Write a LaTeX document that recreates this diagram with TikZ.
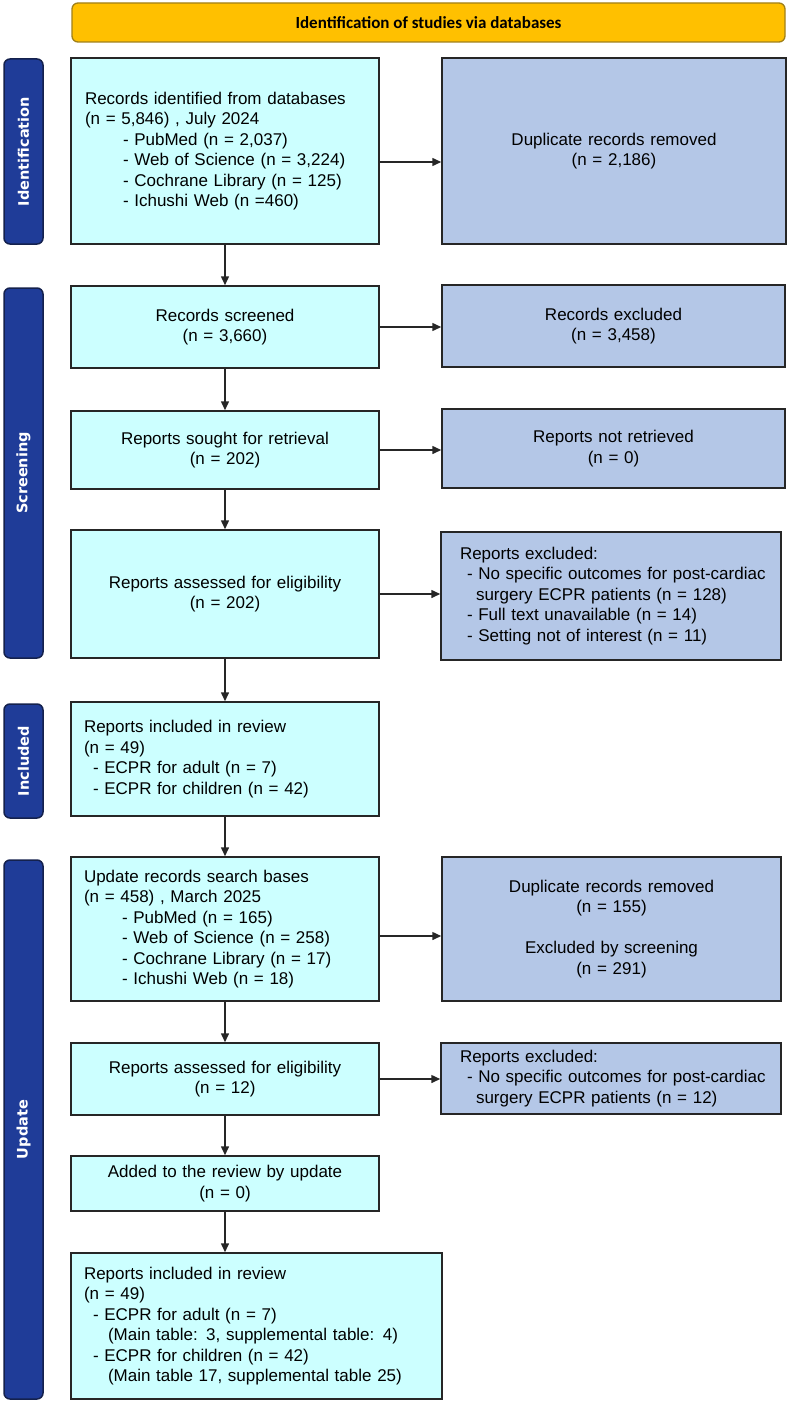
\documentclass[tikz,border=0pt]{standalone}
\usepackage{fontspec}
\setmainfont{Liberation Sans}
\newfontfamily\phasefont{DejaVu Sans}
\newfontfamily\bannerfont{Carlito}
\usetikzlibrary{arrows.meta,positioning}
\definecolor{Ink}{HTML}{262626}
\definecolor{Sky}{HTML}{CCFFFF}
\definecolor{Slate}{HTML}{B4C7E7}
\definecolor{Navy}{HTML}{1F3C98}
\definecolor{NavyEdge}{HTML}{14214D}
\definecolor{Gold}{HTML}{FFC000}
\definecolor{GoldEdge}{HTML}{A08019}

\begin{document}
\begin{tikzpicture}[x=1pt,y=-1pt,>={Triangle[length=9pt,width=8pt]},
  stagebox/.style={draw=Ink,line width=1.5pt,fill=Sky,inner sep=0pt,font=\fontsize{17}{20.5}\selectfont},
  outbox/.style={stagebox,fill=Slate},
  phase/.style={draw=NavyEdge,line width=1.5pt,fill=Navy,rounded corners=6pt,rotate=90,minimum height=39pt,inner sep=0pt,text=white,font=\phasefont\bfseries\fontsize{14.5}{17}\selectfont},
  flow/.style={->,Ink,line width=1.5pt}]
\useasboundingbox (0,0) rectangle (789,1402);
\node[draw=GoldEdge,line width=1.3pt,fill=Gold,rounded corners=6pt,minimum width=713pt,minimum height=39pt,font=\bannerfont\bfseries\fontsize{17}{20}\selectfont] (banner) at (428.5,22.5) {Identification of studies via databases};
% phase bars
\node[phase,minimum width=185pt] (idphase) at (23.5,151.5) {Identification};
\node[phase,minimum width=370pt] (scphase) at (23.5,473) {Screening};
\node[phase,minimum width=114pt] (inphase) at (23.5,761) {Included};
\node[phase,minimum width=539pt] (upphase) at (23.5,1129.5) {Update};
% left column
\node[stagebox,minimum width=308pt,minimum height=186pt,text width=280pt,align=left] (recid) at (225,151) {Records identified from databases\\(n = 5,846) , July 2024\\\hspace*{38pt}- PubMed (n = 2,037)\\\hspace*{38pt}- Web of Science (n = 3,224)\\\hspace*{38pt}- Cochrane Library (n = 125)\\\hspace*{38pt}- Ichushi Web (n =460)};
\node[stagebox,minimum width=308pt,minimum height=82pt,text width=290pt,align=center] (screened) at (225,327) {Records screened\\(n = 3,660)};
\node[stagebox,minimum width=308pt,minimum height=78pt,text width=290pt,align=center] (sought) at (225,450) {Reports sought for retrieval\\(n = 202)};
\node[stagebox,minimum width=308pt,minimum height=128pt,text width=290pt,align=center] (assessed) at (225,594) {Reports assessed for eligibility\\(n = 202)};
\node[stagebox,minimum width=308pt,minimum height=114pt,text width=282pt,align=left] (included) at (225,759) {Reports included in review\\(n = 49)\\\hspace*{9pt}- ECPR for adult (n = 7)\\\hspace*{9pt}- ECPR for children (n = 42)};
\node[stagebox,minimum width=308pt,minimum height=144pt,text width=282pt,align=left] (update) at (225,929) {Update records search bases\\(n = 458) , March 2025\\\hspace*{38pt}- PubMed (n = 165)\\\hspace*{38pt}- Web of Science (n = 258)\\\hspace*{38pt}- Cochrane Library (n = 17)\\\hspace*{38pt}- Ichushi Web (n = 18)};
\node[stagebox,minimum width=308pt,minimum height=72pt,text width=290pt,align=center] (assessedup) at (225,1079) {Reports assessed for eligibility\\(n = 12)};
\node[stagebox,minimum width=308pt,minimum height=55pt,text width=290pt,align=center] (added) at (225,1183.5) {Added to the review by update\\(n = 0)};
\node[stagebox,minimum width=371pt,minimum height=146pt,text width=345pt,align=left] (final) at (256.5,1326) {Reports included in review\\(n = 49)\\\hspace*{9pt}- ECPR for adult (n = 7)\\\hspace*{24pt}(Main table: 3, supplemental table: 4)\\\hspace*{9pt}- ECPR for children (n = 42)\\\hspace*{24pt}(Main table 17, supplemental table 25)};
% right column
\node[outbox,minimum width=344pt,minimum height=186pt,text width=320pt,align=center] (dupid) at (614,151) {Duplicate records removed\\(n = 2,186)};
\node[outbox,minimum width=343pt,minimum height=82pt,text width=320pt,align=center] (exclrec) at (613.5,326) {Records excluded\\(n = 3,458)};
\node[outbox,minimum width=343pt,minimum height=79pt,text width=320pt,align=center] (notret) at (613.5,448.5) {Reports not retrieved\\(n = 0)};
\node[outbox,minimum width=340pt,minimum height=128pt,text width=302pt,align=left] (exclrep) at (611,596) {Reports excluded:\\\hspace*{7pt}\mbox{- No specific outcomes for post-cardiac}\\\hspace*{16pt}surgery ECPR patients (n = 128)\\\hspace*{7pt}- Full text unavailable (n = 14)\\\hspace*{7pt}- Setting not of interest (n = 11)};
\node[outbox,minimum width=339pt,minimum height=144pt,text width=320pt,align=center] (dupup) at (611.5,929) {Duplicate records removed\\(n = 155)\\[20.5pt]Excluded by screening\\(n = 291)};
\node[outbox,minimum width=340pt,minimum height=71pt,text width=302pt,align=left] (exclup) at (611,1078.5) {Reports excluded:\\\hspace*{7pt}\mbox{- No specific outcomes for post-cardiac}\\\hspace*{16pt}surgery ECPR patients (n = 12)};
% connectors
\draw[flow] (recid.south) -- (screened.north);
\draw[flow] (screened.south) -- (sought.north);
\draw[flow] (sought.south) -- (assessed.north);
\draw[flow] (assessed.south) -- (included.north);
\draw[flow] (included.south) -- (update.north);
\draw[flow] (update.south) -- (assessedup.north);
\draw[flow] (assessedup.south) -- (added.north);
\draw[flow] (added.south) -- (added.south |- final.north);
\draw[flow] ([yshift=-11pt]recid.east) -- ([yshift=-11pt]recid.east -| dupid.west);
\draw[flow] (screened.east) -- (screened.east -| exclrec.west);
\draw[flow] (sought.east) -- (sought.east -| notret.west);
\draw[flow] (assessed.east) -- (assessed.east -| exclrep.west);
\draw[flow] ([yshift=-7pt]update.east) -- ([yshift=-7pt]update.east -| dupup.west);
\draw[flow] (assessedup.east) -- (assessedup.east -| exclup.west);
\end{tikzpicture}
\end{document}
